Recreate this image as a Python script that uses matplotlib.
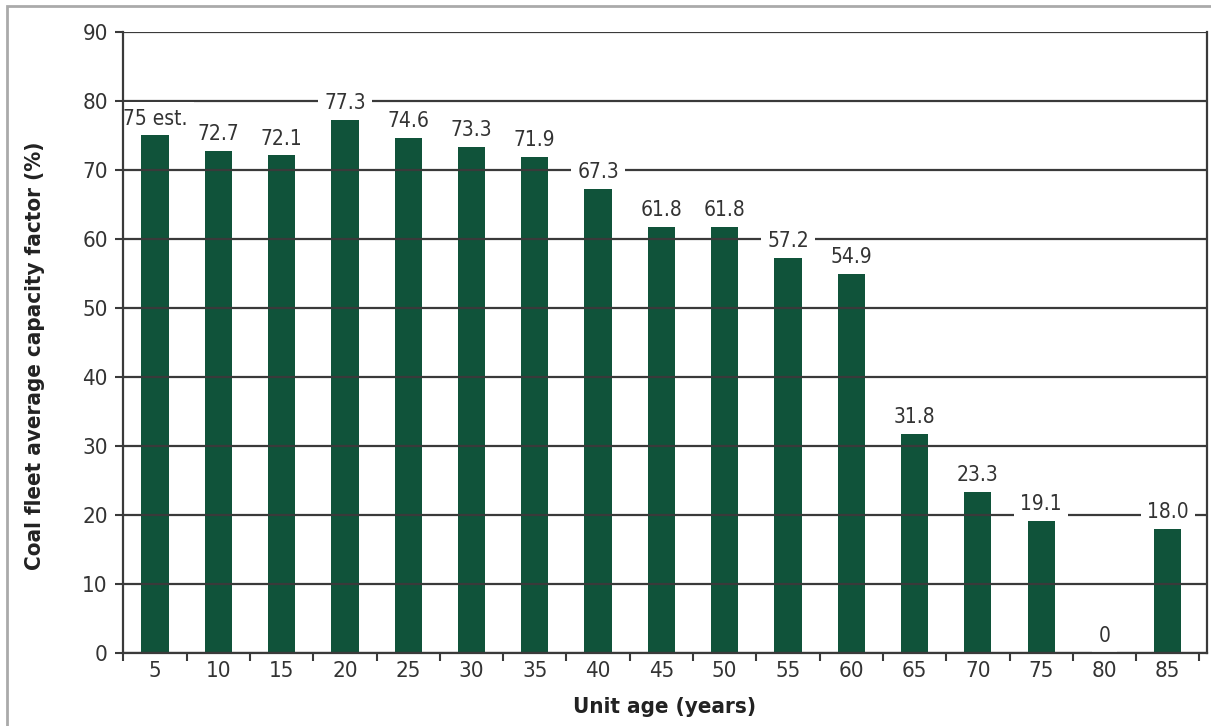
import matplotlib.pyplot as plt
from matplotlib.patches import Rectangle

ages = [5, 10, 15, 20, 25, 30, 35, 40, 45, 50, 55, 60, 65, 70, 75, 80, 85]
capacity_factor = [75, 72.7, 72.1, 77.3, 74.6, 73.3, 71.9, 67.3, 61.8, 61.8,
                   57.2, 54.9, 31.8, 23.3, 19.1, 0, 18.0]
bar_labels = ['75 est.', '72.7', '72.1', '77.3', '74.6', '73.3', '71.9', '67.3',
              '61.8', '61.8', '57.2', '54.9', '31.8', '23.3', '19.1', '0', '18.0']

BAR_COLOR = '#10533a'
TEXT_COLOR = '#333333'
LINE_COLOR = '#3a3a3a'


def main():
    plt.rcParams['font.family'] = ['DejaVu Sans']
    plt.rcParams['font.stretch'] = 'condensed'
    fig = plt.figure(figsize=(12.11, 7.26), dpi=100)
    ax = fig.add_axes([0.1016, 0.1006, 0.8951, 0.8554])

    x = list(range(len(ages)))
    ax.bar(x, capacity_factor, width=0.43, color=BAR_COLOR, zorder=1)

    # value labels sit on white boxes so they break the gridlines
    for xi, val, lab in zip(x, capacity_factor, bar_labels):
        ax.annotate(lab, (xi, val), xytext=(0, 5), textcoords='offset points',
                    ha='center', va='bottom', fontsize=15, color=TEXT_COLOR,
                    zorder=4,
                    bbox=dict(boxstyle='square,pad=0.3', fc='white', ec='none'))

    ax.set_ylim(0, 90)
    ax.set_xlim(-0.505, 16.62)
    ax.set_yticks(range(0, 91, 10))
    ax.yaxis.grid(True, color=LINE_COLOR, linewidth=1.6, zorder=2)
    ax.set_axisbelow(False)

    ax.set_xticks(x)
    ax.set_xticklabels([str(a) for a in ages])
    ax.set_xticks([i + 0.5 for i in range(-1, len(ages))], minor=True)
    ax.tick_params(axis='x', which='major', length=0, pad=6, labelsize=16,
                   labelcolor=TEXT_COLOR)
    ax.tick_params(axis='x', which='minor', length=6, width=1.5, color=LINE_COLOR,
                   direction='out')
    ax.tick_params(axis='y', length=6, width=1.5, color=LINE_COLOR, pad=5,
                   labelsize=16, labelcolor=TEXT_COLOR)

    ax.spines['top'].set_visible(False)
    for side in ['left', 'bottom', 'right']:
        ax.spines[side].set_color(LINE_COLOR)
        ax.spines[side].set_linewidth(1.6)
        ax.spines[side].set_zorder(5)

    ax.set_xlabel('Unit age (years)', fontsize=16, fontweight='bold',
                  color='#222222', labelpad=11)
    ax.set_ylabel('Coal fleet average capacity factor (%)', fontsize=16,
                  fontweight='bold', color='#222222')
    ax.yaxis.set_label_coords(-0.072, 0.478)

    fig.patches.append(Rectangle((7 / 1211, -0.1), 1.2, 1 - 6 / 726 + 0.1,
                                 transform=fig.transFigure, fill=False,
                                 edgecolor='#aaaaaa', linewidth=2))

    fig.savefig('out.png', dpi=100)


if __name__ == '__main__':
    main()
